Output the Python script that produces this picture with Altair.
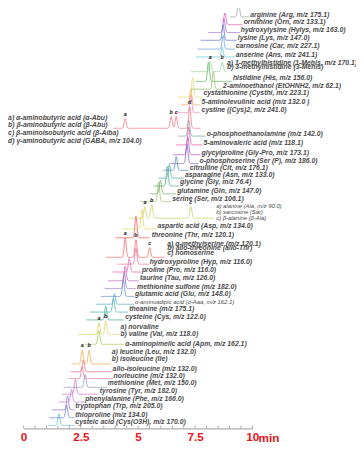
import altair as alt
import numpy as np
import pandas as pd

# ---- data (bottom trace first) ----
names = ["Cys(O3H)", "thioproline", "Trp", "Phe", "Tyr", "Met", "norleucine", "allo-isoleucine",
         "Leu/Ile", "Apm", "norvaline/Val", "Cys", "theanine", "a-Aaa", "Glu", "Met sulfone",
         "Tau", "Pro", "Hyp", "a-MeSer/allo-Thr/homoserine", "Thr", "Asp", "Ala/Sar/b-Ala",
         "Ser", "Gln", "Gly", "Asn", "Cit", "Ser(P)", "Gly-Pro", "5-aminovaleric acid",
         "o-phosphoethanolamine", "a-Abu/b-Abu/b-Aiba/GABA", "(Cys)2", "5-aminolevulinic acid",
         "Cysthi", "EtOHNH2", "His", "1-Mehis/3-Mehis", "Ans", "Car", "Lys", "Hylys", "Orn", "Arg"]
colors = ["#5bc6d6", "#6b7fd6", "#9a70d6", "#c27ed8", "#d474c4", "#8a9ac0", "#e87898", "#ec6a7a",
          "#f2a648", "#a6c84e", "#d6d05e", "#3fae8c", "#44b2b0", "#52a6cc", "#5f8ed2", "#8f70c8",
          "#c262c2", "#e462a4", "#f07494", "#f2646e", "#f25454", "#e6d664", "#c6d064",
          "#a2c276", "#72b264", "#52b282", "#42aaaa", "#5282ca", "#8262c2", "#b252ba", "#e452a2",
          "#7aa2aa", "#f27282", "#f282b2", "#f2a264", "#e8d872", "#92c262", "#62b262", "#92d292",
          "#62c8da", "#62a2e2", "#6272d2", "#a262d2", "#e252b2", "#a2a2a2"]
baseline = [3, 11, 19, 27, 35, 42, 51, 58, 66, 86, 96, 111, 119, 127, 135, 143, 151, 160, 168, 175,
            195, 204, 215, 232, 240, 248, 256, 264, 271, 280, 290, 299, 307, 323, 331, 339, 347, 355,
            365, 380, 388, 397, 405, 413, 421]
t_start = [1.07, 1.11, 1.24, 1.54, 1.67, 1.75, 1.97, 2.05, 2.09, 2.69, 2.39, 2.74, 2.91, 3.16, 3.38,
           3.55, 3.68, 3.89, 4.10, 3.59, 4.02, 4.32, 4.62, 5.09, 5.51, 5.68, 5.90, 6.11, 6.37, 6.54,
           6.67, 6.75, 3.93, 6.67, 6.88, 6.75, 7.31, 7.52, 7.31, 7.52, 7.61, 7.74, 8.08, 8.72, 9.02]
t_end = [2.22, 2.22, 2.22, 2.65, 3.25, 3.63, 3.89, 3.85, 3.80, 4.40, 4.19, 4.40, 4.57, 4.83, 4.83,
         4.91, 5.04, 5.13, 5.47, 6.15, 5.51, 5.81, 8.29, 6.45, 6.67, 6.79, 7.01, 7.22, 7.65, 7.74,
         7.82, 7.95, 7.74, 7.69, 7.74, 7.82, 8.68, 9.10, 8.85, 9.23, 9.23, 9.32, 9.44, 9.57, 9.87]
peak_t = [[1.54], [1.88], [1.92], [2.09], [2.26], [2.69], [2.56], [2.61], [2.56, 2.86], [3.29],
          [3.29, 3.59], [3.59], [3.93], [3.97], [4.36], [4.40], [4.44], [4.62], [4.91],
          [4.44, 4.91, 5.51], [4.91], [5.17], [5.30, 5.60, 7.31], [5.90], [5.98], [6.28], [6.37],
          [6.67], [7.14], [7.18], [7.22], [7.22], [4.44, 6.45, 6.67, 7.26], [7.31], [7.31], [7.39],
          [8.29], [8.08], [8.16, 8.68], [8.68], [8.72], [8.72], [8.76], [8.80], [9.40]]
peak_h = [[12], [13], [14], [13], [15], [13], [12], [12], [14, 14], [14], [12, 14], [14], [14], [11],
          [17], [16], [15], [14], [16], [20, 18, 10], [22], [20], [12, 14, 12], [20], [14], [20], [14],
          [14], [20], [18], [18], [16], [10, 12, 12, 22], [18], [16], [20], [18], [20], [10, 10], [10],
          [14], [16], [14], [12], [14]]
peak_tags = {8: ["a", "b"], 10: ["a", "b"], 19: ["a", "b", "c"], 22: ["a", "b", "c"],
             32: ["a", "b", "c", "d"], 38: ["a", "b"]}

# label text, x (min), y (a.u.), style
label_text = [
    "cysteic acid (Cys(O3H), m/z 170.0)", "thioproline (m/z 134.0)", "tryptophan (Trp, m/z 205.0)",
    "phenylalanine (Phe, m/z 166.0)", "tyrosine (Tyr, m/z 182.0)", "methionine (Met, m/z 150.0)",
    "norleucine (m/z 132.0)", "allo-isoleucine (m/z 132.0)", "a) leucine (Leu, m/z 132.0)",
    "b) isoleucine (Ile)", "α-aminopimelic acid (Apm, m/z 162.1)", "a) norvaline",
    "b) valine (Val, m/z 118.0)", "cysteine (Cys, m/z 122.0)", "theanine (m/z 175.1)",
    "α-aminoadipic acid (α-Aaa, m/z 162.1)", "glutamic acid (Glu, m/z 148.0)",
    "methionine sulfone (m/z 182.0)", "taurine (Tau, m/z 126.0)", "proline (Pro, m/z 116.0)",
    "hydroxyproline (Hyp, m/z 116.0)", "a) α-methylserine (m/z 120.1)", "b) allo-threonine (allo-Thr)",
    "c) homoserine", "threonine (Thr, m/z 120.1)", "aspartic acid (Asp, m/z 134.0)",
    "a) alanine (Ala, m/z 90.0)", "b) sarcosine (Sar)", "c) β-alanine (β-Ala)",
    "serine (Ser, m/z 106.1)", "glutamine (Gln, m/z 147.0)", "glycine (Gly, m/z 76.4)",
    "asparagine (Asn, m/z 133.0)", "citrulline (Cit, m/z 176.1)", "o-phosphoserine (Ser (P), m/z 186.0)",
    "glycylproline (Gly-Pro, m/z 173.1)", "5-aminovaleric acid (m/z 118.1)",
    "o-phosphoethanolamine (m/z 142.0)", "a) α-aminobutyric acid (α-Abu)",
    "b) β-aminobutyric acid (β-Abu)", "c) β-aminoisobutyric acid (β-Aiba)",
    "d) γ-aminobutyric acid (GABA, m/z 104.0)", "cystine ((Cys)2, m/z 241.0)",
    "5-aminolevulinic acid (m/z 132.0 )", "cystathionine (Cysthi, m/z 223.1)",
    "2-aminoethanol (EtOHNH2, m/z 62.1)", "histidine (His, m/z 156.0)",
    "a) 1-methylhistidine (1-Mehis, m/z 170.1)", "b) 3-methylhistidine (3-Mehis)",
    "anserine (Ans, m/z 241.1)", "carnosine (Car, m/z 227.1)", "lysine (Lys, m/z 147.0)",
    "hydroxylysine (Hylys, m/z 163.0)", "ornithine (Orn, m/z 133.1)", "arginine (Arg, m/z 175.1)"]
label_x = [2.26, 2.26, 2.26, 2.69, 3.33, 3.68, 3.93, 3.89, 3.85, 3.85, 4.44, 4.23, 4.23, 4.44, 4.62,
           4.87, 4.87, 4.96, 5.09, 5.17, 5.51, 6.28, 6.28, 6.28, 5.60, 5.85, 8.42, 8.42, 8.42, 6.50,
           6.71, 6.84, 7.05, 7.26, 7.69, 7.78, 7.86, 8.00, -0.68, -0.68, -0.68, -0.68, 7.78, 7.78,
           7.86, 8.72, 9.15, 8.89, 8.89, 9.27, 9.27, 9.36, 9.49, 9.62, 9.91]
label_y = [6, 14, 23, 30, 38, 46, 54, 61, 78, 71, 86, 104, 97, 114, 122, 129, 137, 145, 154, 162,
           170, 189, 184, 179, 198, 207, 227, 221, 215, 235, 243, 252, 259, 266, 274, 282, 292, 301,
           317, 310, 302, 294, 326, 334, 343, 350, 358, 374, 370, 382, 391, 399, 408, 416, 423]
label_style = ["main"] * len(label_text)
for k in (15, 26, 27, 28):
    label_style[k] = "small"

axis_values = [0, 2.5, 5, 7.5, 10]
minor_ticks = [i * 0.5 for i in range(21)]

# ---- build tables ----
SIGMA = 0.045
rows = []
tags = []
for i in range(len(names)):
    ts = np.round(np.arange(t_start[i], t_end[i] + 1e-9, 0.01), 3)
    y = np.full(ts.shape, float(baseline[i]))
    for p, h in zip(peak_t[i], peak_h[i]):
        y += h * np.exp(-0.5 * ((ts - p) / SIGMA) ** 2)
    for t, v in zip(ts, y):
        rows.append({"trace": i, "t": float(t), "y": float(v), "color": colors[i]})
    if i in peak_tags:
        for tag, p, h in zip(peak_tags[i], peak_t[i], peak_h[i]):
            tags.append({"tag": tag, "t": p, "y": baseline[i] + h + 2})
df = pd.DataFrame(rows)
tag_df = pd.DataFrame(tags)
lab_df = pd.DataFrame({"text": label_text, "x": label_x, "y": label_y, "style": label_style})

xs = alt.Scale(domain=[0, 10], nice=False, zero=False)
ys = alt.Scale(domain=[0, 425], nice=False, zero=False)

lines = alt.Chart(df).mark_line(strokeWidth=0.8, clip=False).encode(
    x=alt.X("t:Q", scale=xs, axis=alt.Axis(
        values=axis_values, title=None, grid=False, ticks=False,
        domainColor="#999999", domainWidth=1, format=".1~f",
        labelColor="#e8141b", labelFontSize=12, labelFontWeight="bold",
        labelFont="Liberation Sans", labelPadding=3, labelFlush=False)),
    y=alt.Y("y:Q", scale=ys, axis=None),
    detail="trace:N",
    order="t:Q",
    color=alt.Color("color:N", scale=None),
)

ticks = alt.Chart(pd.DataFrame({"t": minor_ticks})).mark_rule(color="#999999", strokeWidth=0.8).encode(
    x=alt.X("t:Q", scale=xs), y=alt.value(425), y2=alt.value(422))

main_labels = alt.Chart(lab_df[lab_df["style"] == "main"]).mark_text(
    align="left", baseline="middle", font="Liberation Sans", fontStyle="italic",
    fontWeight="bold", fontSize=7, color="#4a4a4a", clip=False).encode(
    x=alt.X("x:Q", scale=xs), y=alt.Y("y:Q", scale=ys), text="text:N")

small_labels = alt.Chart(lab_df[lab_df["style"] == "small"]).mark_text(
    align="left", baseline="middle", font="Liberation Sans", fontStyle="italic",
    fontSize=6, color="#4a4a4a", clip=False).encode(
    x=alt.X("x:Q", scale=xs), y=alt.Y("y:Q", scale=ys), text="text:N")

tag_labels = alt.Chart(tag_df).mark_text(
    align="center", baseline="bottom", font="Liberation Sans", fontStyle="italic",
    fontWeight="bold", fontSize=5.5, color="#111111", clip=False).encode(
    x=alt.X("t:Q", scale=xs), y=alt.Y("y:Q", scale=ys), text="tag:N")

unit = alt.Chart(pd.DataFrame({"text": ["min"], "x": [10.27], "y": [-9.5]})).mark_text(
    align="left", baseline="middle", font="Liberation Sans", fontWeight="bold",
    fontSize=12, color="#e8141b", clip=False).encode(
    x=alt.X("x:Q", scale=xs), y=alt.Y("y:Q", scale=ys), text="text:N")

chart = alt.layer(lines, ticks, main_labels, small_labels, tag_labels, unit).properties(
    width=234, height=425,
    autosize=alt.AutoSizeParams(type="none"),
    padding={"left": 16, "top": 0, "right": 106, "bottom": 16},
).configure_view(stroke=None)

chart.save("out.html", embed_options={"renderer": "svg", "actions": False})
